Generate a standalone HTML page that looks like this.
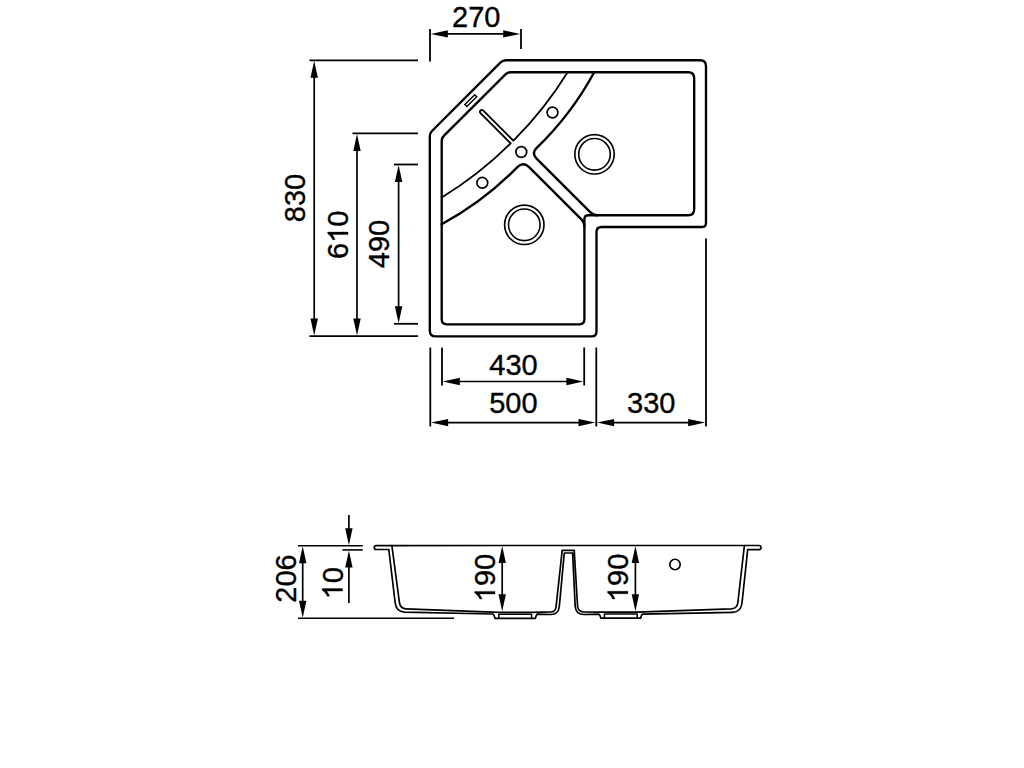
<!DOCTYPE html>
<html><head><meta charset="utf-8"><style>
html,body{margin:0;padding:0;background:#fff;width:1024px;height:768px;overflow:hidden}
svg{display:block}
text{font-family:"Liberation Sans",sans-serif;fill:#000;stroke:#000;stroke-width:0.35px}
</style></head><body>
<svg width="1024" height="768" viewBox="0 0 1024 768">
<rect width="1024" height="768" fill="#fff"/>
<line x1="430" y1="29" x2="430" y2="61.5" stroke="#000" stroke-width="1.8"/>
<line x1="521" y1="29" x2="521" y2="49" stroke="#000" stroke-width="1.8"/>
<line x1="440" y1="33.9" x2="512" y2="33.9" stroke="#000" stroke-width="1.7"/>
<polygon points="430.80,33.90 447.80,30.20 447.80,37.60" fill="#000"/>
<polygon points="520.20,33.90 503.20,37.60 503.20,30.20" fill="#000"/>
<g transform="translate(476.20,27.00)"><text x="-24.19" y="0" font-size="29">2</text><text x="-8.06" y="0" font-size="29">7</text><text x="8.06" y="0" font-size="29">0</text></g>
<line x1="309.5" y1="60.3" x2="418" y2="60.3" stroke="#000" stroke-width="1.8"/>
<line x1="352.5" y1="133.4" x2="418" y2="133.4" stroke="#000" stroke-width="1.8"/>
<line x1="394" y1="164.5" x2="418" y2="164.5" stroke="#000" stroke-width="1.8"/>
<line x1="394" y1="323.8" x2="418" y2="323.8" stroke="#000" stroke-width="1.8"/>
<line x1="309.5" y1="336.1" x2="418" y2="336.1" stroke="#000" stroke-width="1.8"/>
<line x1="314.2" y1="70" x2="314.2" y2="326" stroke="#000" stroke-width="1.7"/>
<polygon points="314.20,60.80 317.90,77.80 310.50,77.80" fill="#000"/>
<polygon points="314.20,335.60 310.50,318.60 317.90,318.60" fill="#000"/>
<g transform="translate(304.85,198.00) rotate(-90)"><text x="-24.19" y="0" font-size="29">8</text><text x="-8.06" y="0" font-size="29">3</text><text x="8.06" y="0" font-size="29">0</text></g>
<line x1="357" y1="143" x2="357" y2="326" stroke="#000" stroke-width="1.7"/>
<polygon points="357.00,133.90 360.70,150.90 353.30,150.90" fill="#000"/>
<polygon points="357.00,335.60 353.30,318.60 360.70,318.60" fill="#000"/>
<g transform="translate(348.00,234.80) rotate(-90)"><text x="-24.19" y="0" font-size="29">6</text><path d="M2.74,0.00 L0.19,0.00 L0.19,-15.88 Q-0.73,-15.03 -2.23,-14.17 Q-3.73,-13.31 -4.90,-12.88 L-4.90,-15.29 Q-2.80,-16.26 -1.21,-17.63 Q0.38,-19.00 1.04,-20.30 L2.74,-20.30 Z" fill="#000" stroke="#000" stroke-width="0.35"/><text x="8.06" y="0" font-size="29">0</text></g>
<line x1="398.6" y1="174" x2="398.6" y2="314" stroke="#000" stroke-width="1.7"/>
<polygon points="398.60,165.00 402.30,182.00 394.90,182.00" fill="#000"/>
<polygon points="398.60,323.30 394.90,306.30 402.30,306.30" fill="#000"/>
<g transform="translate(388.80,244.00) rotate(-90)"><text x="-24.19" y="0" font-size="29">4</text><text x="-8.06" y="0" font-size="29">9</text><text x="8.06" y="0" font-size="29">0</text></g>
<line x1="430.3" y1="347.5" x2="430.3" y2="426.5" stroke="#000" stroke-width="1.8"/>
<line x1="442" y1="347.5" x2="442" y2="385.5" stroke="#000" stroke-width="1.8"/>
<line x1="584.2" y1="347.5" x2="584.2" y2="385.5" stroke="#000" stroke-width="1.8"/>
<line x1="596.3" y1="347.5" x2="596.3" y2="426.5" stroke="#000" stroke-width="1.8"/>
<line x1="706" y1="238.5" x2="706" y2="426.5" stroke="#000" stroke-width="1.8"/>
<line x1="450" y1="381.5" x2="576" y2="381.5" stroke="#000" stroke-width="1.7"/>
<polygon points="442.80,381.50 459.80,377.80 459.80,385.20" fill="#000"/>
<polygon points="583.40,381.50 566.40,385.20 566.40,377.80" fill="#000"/>
<g transform="translate(513.50,374.70)"><text x="-24.19" y="0" font-size="29">4</text><text x="-8.06" y="0" font-size="29">3</text><text x="8.06" y="0" font-size="29">0</text></g>
<line x1="440" y1="422.6" x2="588" y2="422.6" stroke="#000" stroke-width="1.6"/>
<polygon points="431.10,422.60 448.10,418.90 448.10,426.30" fill="#000"/>
<polygon points="595.50,422.60 578.50,426.30 578.50,418.90" fill="#000"/>
<g transform="translate(513.40,412.80)"><text x="-24.19" y="0" font-size="29">5</text><text x="-8.06" y="0" font-size="29">0</text><text x="8.06" y="0" font-size="29">0</text></g>
<line x1="606" y1="422.6" x2="698" y2="422.6" stroke="#000" stroke-width="1.6"/>
<polygon points="597.10,422.60 614.10,418.90 614.10,426.30" fill="#000"/>
<polygon points="705.20,422.60 688.20,426.30 688.20,418.90" fill="#000"/>
<g transform="translate(651.25,412.80)"><text x="-24.19" y="0" font-size="29">3</text><text x="-8.06" y="0" font-size="29">3</text><text x="8.06" y="0" font-size="29">0</text></g>
<path d="M505.8,60.2 L700,60.2 Q706,60.2 706,66.2 L706,223 Q706,227 702,227 L601.5,227 Q596.5,227 596.5,232 L596.5,331.4 Q596.5,336.4 591.5,336.4 L435.8,336.4 Q429.8,336.4 429.8,330.4 L429.8,136.2 Q429.8,133.2 432,131 L500.6,62.4 Q502.8,60.2 505.8,60.2 Z" stroke="#000" stroke-width="2.35" fill="none" stroke-linejoin="round" stroke-linecap="round"/>
<path d="M584.4,219.2 L584.4,319.3 Q584.4,324.3 579.4,324.3 L446.7,324.3 Q441.7,324.3 441.7,319.3 L441.7,141 Q441.7,138 443.8,135.9 L505.5,74.3 Q507.6,72.2 510.6,72.2 L688.2,72.2 Q694.2,72.2 694.2,78.2 L694.2,209.2 Q694.2,215.2 688.2,215.2 L588.4,215.2 Q584.4,215.2 584.4,219.2 Z" stroke="#000" stroke-width="2.35" fill="none" stroke-linejoin="round" stroke-linecap="round"/>
<path d="M594.2,72.2 A313,313 0 0 1 536.2,148.4 Q531.4,153.4 536.35,158.35 L590.2,212.2 Q593.2,215.2 597.2,215.2" stroke="#000" stroke-width="2.35" fill="none" stroke-linejoin="round" stroke-linecap="round"/>
<path d="M441.7,224.2 A313,313 0 0 0 517.6,166.9 Q523.4,161.4 529.1,167.1 L581.4,219.4 Q584.4,222.4 584.4,226.4" stroke="#000" stroke-width="2.35" fill="none" stroke-linejoin="round" stroke-linecap="round"/>
<path d="M567.6,72.2 A377,377 0 0 1 513.4,140.7 L482.8,110.2 A1.9,1.9 0 0 0 480.2,112.8 L510.7,143.4 A377,377 0 0 1 441.7,197.6" stroke="#000" stroke-width="1.8" fill="none" stroke-linejoin="round" stroke-linecap="round"/>
<rect x="-7" y="-1.4" width="14" height="2.8" transform="translate(470.8,100.6) rotate(-45)" stroke="#000" stroke-width="1.4" fill="none"/>
<circle cx="552.5" cy="112.5" r="5.4" stroke="#000" stroke-width="1.7" fill="none"/>
<circle cx="482.3" cy="182.8" r="5.4" stroke="#000" stroke-width="1.7" fill="none"/>
<circle cx="521.3" cy="152" r="5.4" stroke="#000" stroke-width="1.7" fill="none"/>
<circle cx="594.5" cy="154.3" r="19.7" stroke="#000" stroke-width="1.65" fill="none"/>
<circle cx="594.5" cy="154.3" r="15.8" stroke="#000" stroke-width="1.6" fill="none"/>
<circle cx="524.3" cy="224.8" r="19.7" stroke="#000" stroke-width="1.65" fill="none"/>
<circle cx="524.3" cy="224.8" r="15.8" stroke="#000" stroke-width="1.6" fill="none"/>
<line x1="298" y1="545.7" x2="362.8" y2="545.7" stroke="#000" stroke-width="1.6"/>
<line x1="342.5" y1="549.9" x2="362.8" y2="549.9" stroke="#000" stroke-width="1.6"/>
<line x1="298" y1="618.2" x2="454" y2="618.2" stroke="#000" stroke-width="1.6"/>
<line x1="302.7" y1="560" x2="302.7" y2="604" stroke="#000" stroke-width="1.7"/>
<polygon points="302.70,546.20 306.40,563.20 299.00,563.20" fill="#000"/>
<polygon points="302.70,617.70 299.00,600.70 306.40,600.70" fill="#000"/>
<g transform="translate(295.80,578.50) rotate(-90)"><text x="-24.19" y="0" font-size="29">2</text><text x="-8.06" y="0" font-size="29">0</text><text x="8.06" y="0" font-size="29">6</text></g>
<line x1="348.9" y1="515" x2="348.9" y2="530" stroke="#000" stroke-width="1.7"/>
<polygon points="348.90,545.20 345.20,528.20 352.60,528.20" fill="#000"/>
<line x1="348.9" y1="565" x2="348.9" y2="603" stroke="#000" stroke-width="1.7"/>
<polygon points="348.90,550.40 352.60,567.40 345.20,567.40" fill="#000"/>
<g transform="translate(342.50,583.20) rotate(-90)"><path d="M-5.32,0.00 L-7.87,0.00 L-7.87,-15.88 Q-8.79,-15.03 -10.29,-14.17 Q-11.79,-13.31 -12.97,-12.88 L-12.97,-15.29 Q-10.86,-16.26 -9.27,-17.63 Q-7.69,-19.00 -7.02,-20.30 L-5.32,-20.30 Z" fill="#000" stroke="#000" stroke-width="0.35"/><text x="0.00" y="0" font-size="29">0</text></g>
<line x1="502.2" y1="560" x2="502.2" y2="598" stroke="#000" stroke-width="1.7"/>
<polygon points="502.20,546.10 505.90,563.10 498.50,563.10" fill="#000"/>
<polygon points="502.20,611.20 498.50,594.20 505.90,594.20" fill="#000"/>
<g transform="translate(495.00,578.00) rotate(-90)"><path d="M-13.38,0.00 L-15.93,0.00 L-15.93,-15.88 Q-16.85,-15.03 -18.35,-14.17 Q-19.85,-13.31 -21.03,-12.88 L-21.03,-15.29 Q-18.92,-16.26 -17.33,-17.63 Q-15.75,-19.00 -15.08,-20.30 L-13.38,-20.30 Z" fill="#000" stroke="#000" stroke-width="0.35"/><text x="-8.06" y="0" font-size="29">9</text><text x="8.06" y="0" font-size="29">0</text></g>
<line x1="635.4" y1="560" x2="635.4" y2="598" stroke="#000" stroke-width="1.7"/>
<polygon points="635.40,546.10 639.10,563.10 631.70,563.10" fill="#000"/>
<polygon points="635.40,611.20 631.70,594.20 639.10,594.20" fill="#000"/>
<g transform="translate(627.90,577.90) rotate(-90)"><path d="M-13.38,0.00 L-15.93,0.00 L-15.93,-15.88 Q-16.85,-15.03 -18.35,-14.17 Q-19.85,-13.31 -21.03,-12.88 L-21.03,-15.29 Q-18.92,-16.26 -17.33,-17.63 Q-15.75,-19.00 -15.08,-20.30 L-13.38,-20.30 Z" fill="#000" stroke="#000" stroke-width="0.35"/><text x="-8.06" y="0" font-size="29">9</text><text x="8.06" y="0" font-size="29">0</text></g>
<circle cx="675" cy="564.5" r="5.2" stroke="#000" stroke-width="1.6" fill="none"/>
<line x1="391" y1="545.6" x2="744.5" y2="545.5" stroke="#000" stroke-width="1.6"/>
<path d="M376,545.6 L391.9,545.6 L399.5,603 Q400.6,608.6 406,608.9 L498.8,612.3 L531.6,612.3 L551.5,611.9 Q555.6,611.6 556.1,606.5 L562.2,550.4 L574.2,550.4 L577.6,606.5 Q578.2,611.6 583.5,611.9 L604.4,612.1 L637.2,612.1 L731.1,608.9 Q737,608.4 737.8,603 L744.4,545.5 L759,545.5 Q761,545.5 761,547.5 Q761,549.6 759,549.6 L747.7,549.6 L742,603 Q741,612 732.8,612.3 L643,614.1 Q641.5,614.1 640.6,618.2 L600.9,618.2 Q600,614.1 598.2,614.1 L584,614.5 Q575.8,614.3 575.2,606.5 L572.6,553 L564.3,553 L559.3,606.5 Q558.6,614.3 551,614.5 L537.7,614.1 Q536.3,614.1 535.4,618.4 L495,618.4 Q494,614.1 492.6,614 L404.3,612.1 Q396,611.2 395.2,603 L388.8,549.5 L376,549.5 Q374.3,549.5 374.3,547.5 Q374.3,545.6 376,545.6 Z" stroke="#000" stroke-width="1.7" fill="none" stroke-linejoin="round" stroke-linecap="round"/>
<path d="M498.8,618.4 L498.8,614.2 L531.6,614.2 L531.6,618.4" stroke="#000" stroke-width="1.5" fill="none" stroke-linejoin="round" stroke-linecap="round"/>
<path d="M604.4,618.2 L604.4,614.1 L637.2,614.1 L637.2,618.2" stroke="#000" stroke-width="1.5" fill="none" stroke-linejoin="round" stroke-linecap="round"/>
</svg>
</body></html>
